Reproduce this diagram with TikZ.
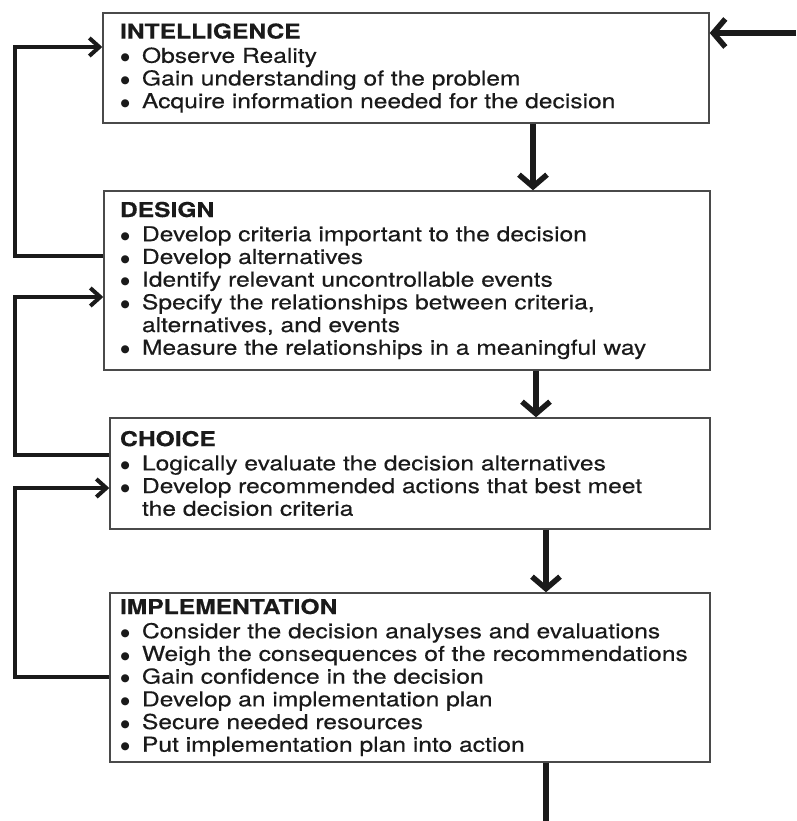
\documentclass[tikz,border=0pt]{standalone}
\usepackage{fontspec}
\setmainfont[FakeStretch=1.2,FakeBold=0.4]{TeX Gyre Heros}
\newfontfamily\dotfont{DejaVu Sans}
\usetikzlibrary{arrows.meta}
\definecolor{ink}{HTML}{1A1A1A}
\definecolor{rule}{HTML}{4A4A4A}
\newcommand{\itm}[1]{\makebox[22pt][l]{\hspace*{0.5pt}\raisebox{1.8pt}{\dotfont\fontsize{10.5}{10.5}\selectfont ●}}#1}
\newcommand{\cont}[1]{\hspace*{22pt}#1}
\newcommand{\hd}[1]{\textbf{#1}\\[1.5pt]}
\begin{document}
\begin{tikzpicture}[x=1pt,y=-1pt,
  stage/.style={draw=rule, line width=1.4pt, rectangle, align=left,
    inner ysep=0pt, text=ink, font=\fontsize{20.5}{22.7}\selectfont},
  flow/.style={draw=ink, line width=6.5pt,
    -{Straight Barb[length=12pt,width=28pt,line width=5.5pt]}},
  fb/.style={draw=ink, line width=4.5pt,
    -{Straight Barb[length=10pt,width=18pt,line width=4pt]}},
  plain/.style={draw=ink, line width=6.5pt}]
\useasboundingbox (0,0) rectangle (796,821);

% the four stages
\node[stage, inner xsep=17pt, text width=572pt, minimum height=110pt] (intel) at (406,68) {%
  \hd{INTELLIGENCE}
  \itm{Observe Reality}\\
  \itm{Gain understanding of the problem}\\
  \itm{Acquire information needed for the decision}};

\node[stage, inner xsep=16pt, text width=574pt, minimum height=179pt] (design) at (407,280.5) {%
  \hd{DESIGN}
  \itm{Develop criteria important to the decision}\\
  \itm{Develop alternatives}\\
  \itm{Identify relevant uncontrollable events}\\
  \itm{Specify the relationships between criteria,}\\
  \cont{alternatives, and events}\\
  \itm{Measure the relationships in a meaningful way}};

\node[stage, inner xsep=10pt, text width=580pt, minimum height=111pt] (choice) at (410,473.5) {%
  \hd{CHOICE}
  \itm{Logically evaluate the decision alternatives}\\
  \itm{Develop recommended actions that best meet}\\
  \cont{the decision criteria}};

\node[stage, inner xsep=10pt, text width=580pt, minimum height=169pt] (impl) at (410,677.5) {%
  \hd{IMPLEMENTATION}
  \itm{Consider the decision analyses and evaluations}\\
  \itm{Weigh the consequences of the recommendations}\\
  \itm{Gain confidence in the decision}\\
  \itm{Develop an implementation plan}\\
  \itm{Secure needed resources}\\
  \itm{Put implementation plan into action}};

% guide points for the connectors
\coordinate (x1) at (533,0);
\coordinate (x2) at (536,0);
\coordinate (x3) at (546,0);
\coordinate (entry) at (796,33);
\coordinate (exit) at (546,821);
\coordinate (a1) at (15,47);
\coordinate (b1) at (15,256);
\coordinate (a2) at (15,297);
\coordinate (b2) at (15,455);
\coordinate (a3) at (15,488);
\coordinate (b3) at (15,677);

% main flow downwards
\draw[flow] (entry) -- (intel.east |- entry);
\draw[flow] (intel.south -| x1) -- (design.north -| x1);
\draw[flow] (design.south -| x2) -- (choice.north -| x2);
\draw[flow] (choice.south -| x3) -- (impl.north -| x3);
\draw[plain] (impl.south -| x3) -- (exit);

% feedback loops on the left
\draw[fb] (design.west |- b1) -- (b1) -- (a1) -- (intel.west |- a1);
\draw[fb] (choice.west |- b2) -- (b2) -- (a2) -- (design.west |- a2);
\draw[fb] (impl.west |- b3) -- (b3) -- (a3) -- (choice.west |- a3);
\end{tikzpicture}
\end{document}
